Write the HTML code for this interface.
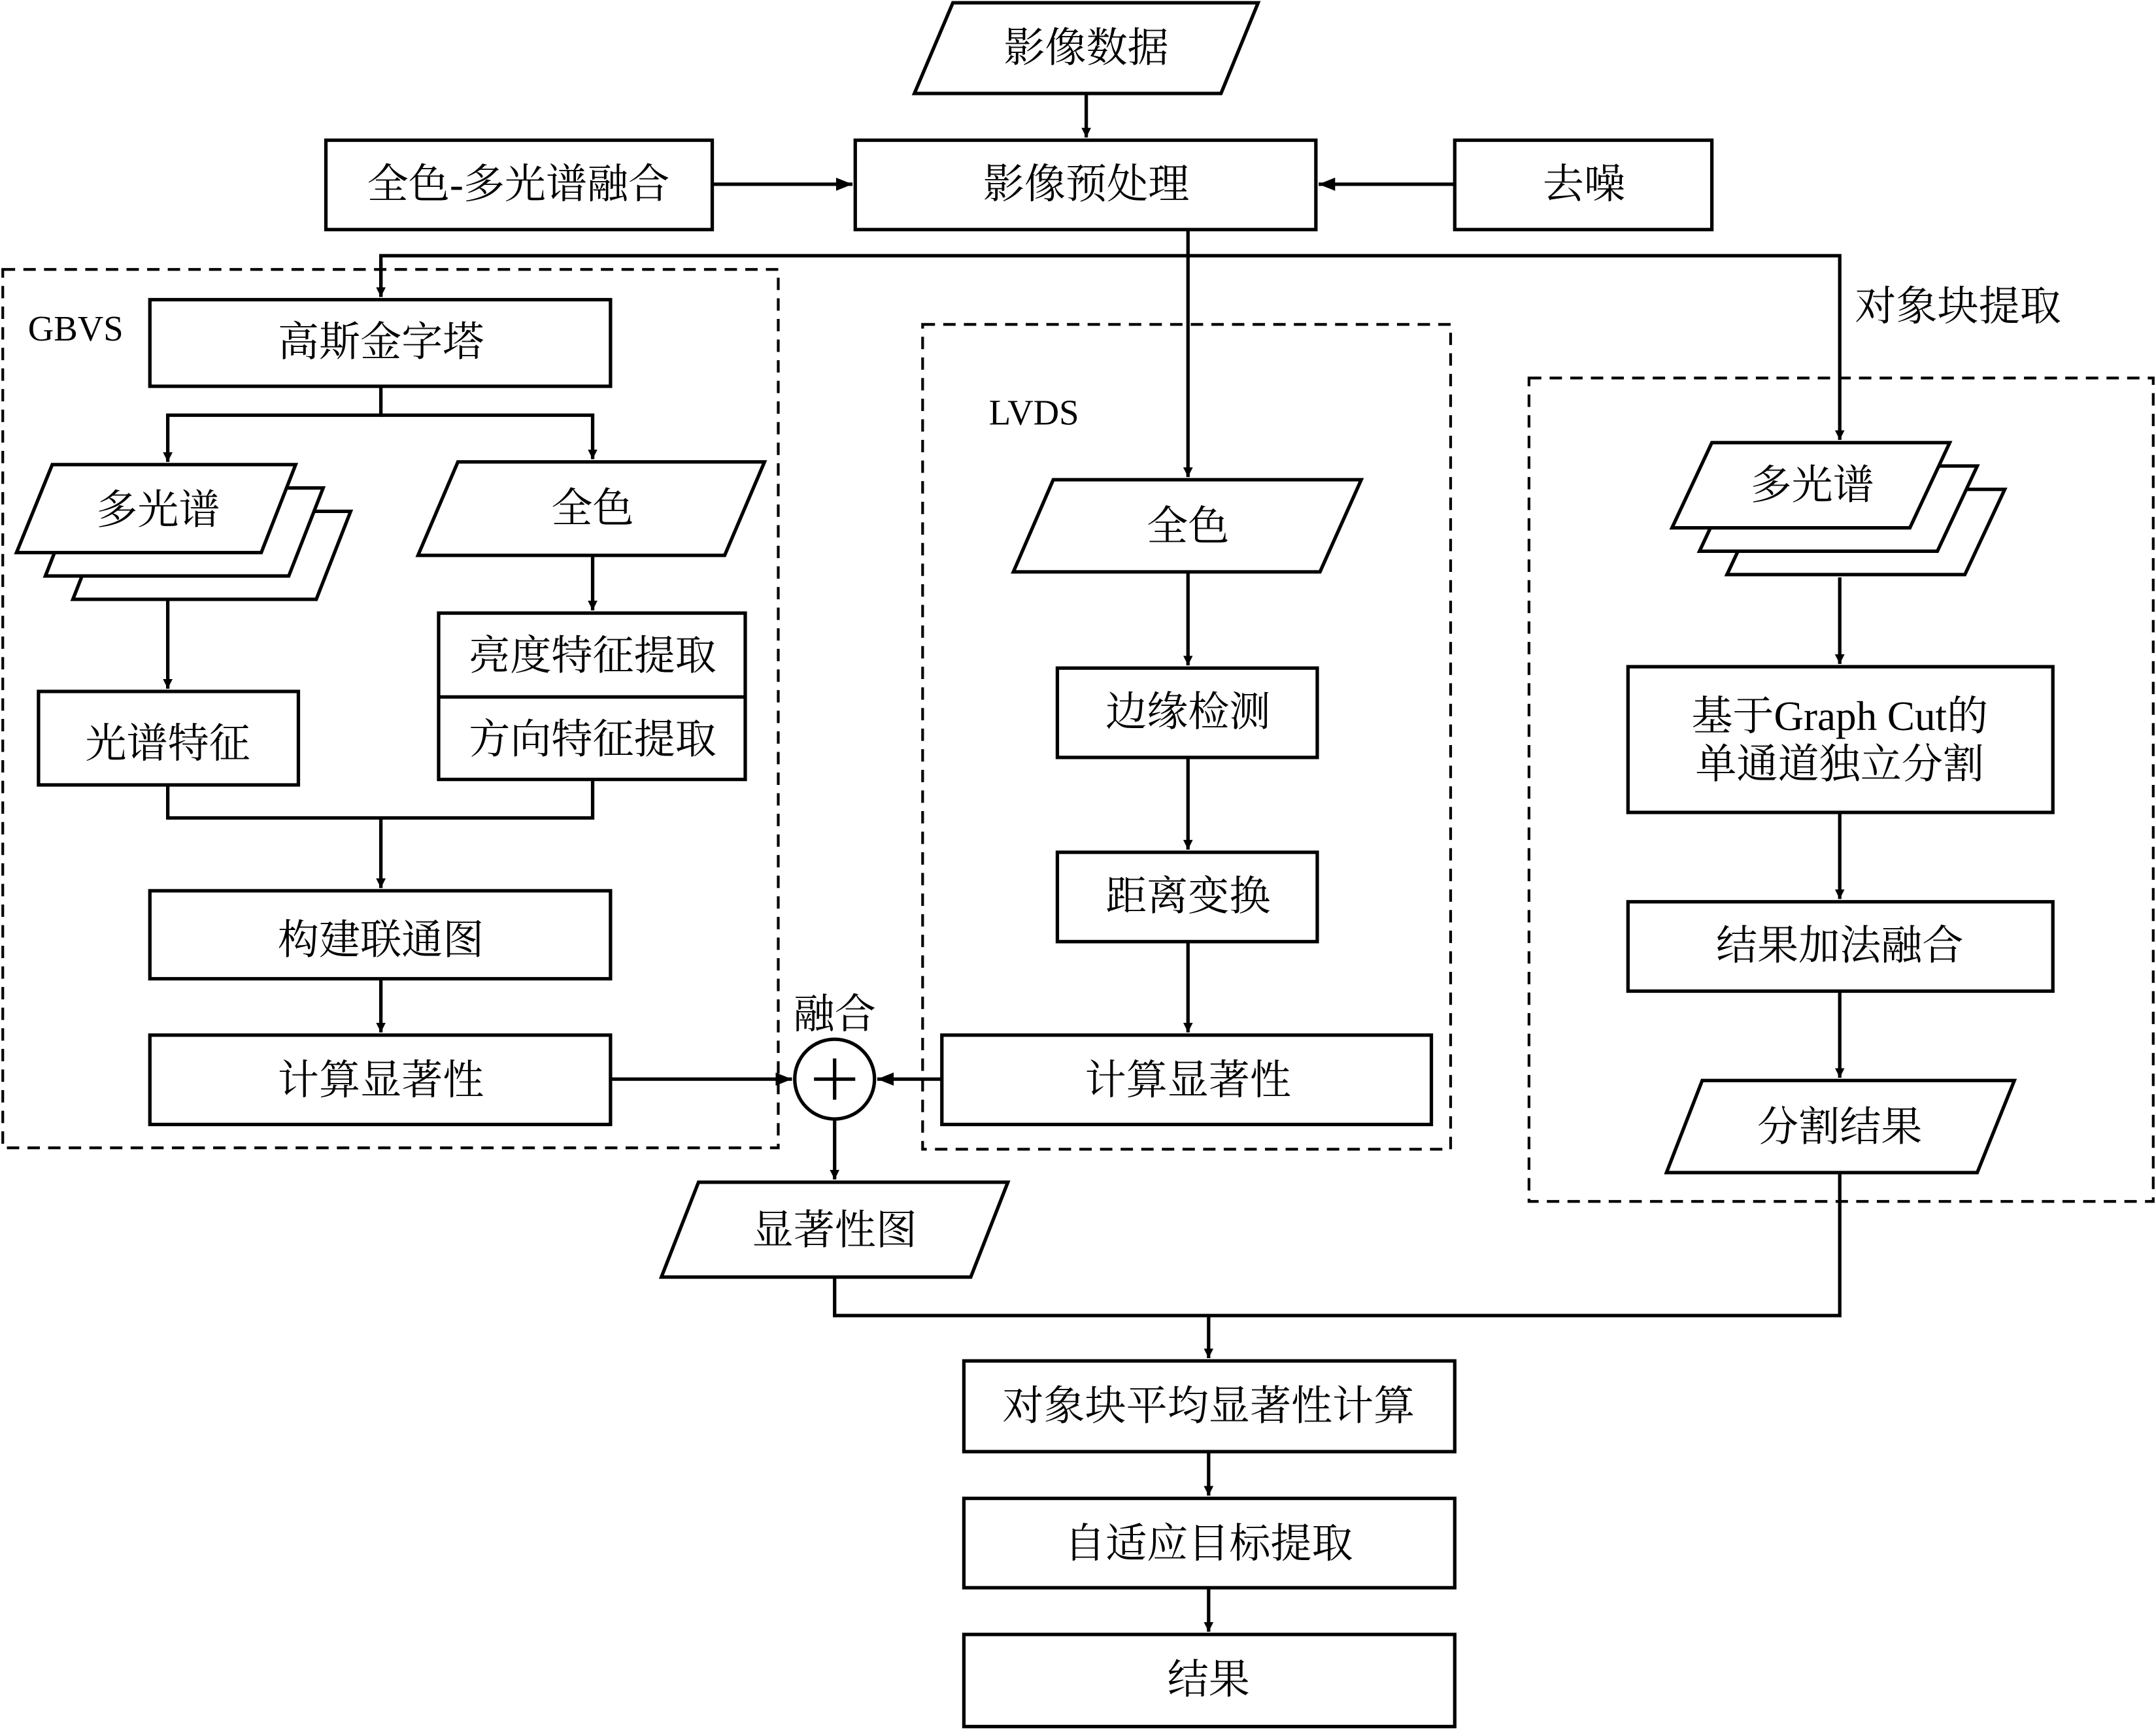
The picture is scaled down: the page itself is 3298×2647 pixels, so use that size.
<!DOCTYPE html>
<html><head><meta charset="utf-8">
<style>
html,body{margin:0;padding:0;background:#fff;}
svg{display:block;}
text{font-family:"Liberation Serif","Noto Serif CJK SC","Noto Sans CJK SC",serif;font-size:30px;fill:#000;text-anchor:middle;dominant-baseline:central;}
</style></head>
<body>
<svg width="3298" height="2647" viewBox="0 0 1568 1258.5" xmlns="http://www.w3.org/2000/svg">
<defs>
<marker id="a" viewBox="0 0 10 10" refX="10" refY="5" markerWidth="7" markerHeight="7" markerUnits="userSpaceOnUse" orient="auto">
<path d="M0,0 L10,5 L0,10 z" fill="#000"/></marker>
<marker id="b" viewBox="0 0 10 10" refX="10" refY="5" markerWidth="12" markerHeight="12" markerUnits="userSpaceOnUse" orient="auto">
<path d="M0,1 L10,5 L0,9 z" fill="#000"/></marker>
</defs>
<g fill="none" stroke="#000" stroke-width="2.5">
<!-- dashed boxes -->
<g stroke-dasharray="9,6" stroke-width="2">
<rect x="2" y="196" width="564" height="639"/>
<rect x="671" y="236" width="384" height="600"/>
<rect x="1112" y="275" width="454" height="599"/>
</g>
<!-- top -->
<polygon points="693,2 915,2 888,68 665,68" fill="#fff"/>
<rect x="622" y="102" width="335" height="65"/>
<rect x="237" y="102" width="281" height="65"/>
<rect x="1058" y="102" width="187" height="65"/>
<!-- GBVS -->
<rect x="109" y="218" width="335" height="63"/>
<polygon points="78,372 255,372 230,436 53,436" fill="#fff"/>
<polygon points="58,355 235,355 210,419 33,419" fill="#fff"/>
<polygon points="38,338 215,338 190,402 12,402" fill="#fff"/>
<polygon points="333,336 556,336 527,404 304,404"/>
<rect x="28" y="503" width="189" height="68"/>
<rect x="319" y="446" width="223" height="121"/>
<line x1="319" y1="507" x2="542" y2="507"/>
<rect x="109" y="648" width="335" height="64"/>
<rect x="109" y="753" width="335" height="65"/>
<!-- LVDS -->
<polygon points="766,349 990,349 960,416 737,416"/>
<rect x="769" y="486" width="189" height="65"/>
<rect x="769" y="620" width="189" height="65"/>
<rect x="685" y="753" width="356" height="65"/>
<!-- fusion -->
<circle cx="607" cy="785" r="29"/>
<line x1="607" y1="770" x2="607" y2="800"/>
<line x1="592" y1="785" x2="622" y2="785"/>
<polygon points="508,860 733,860 706,929 481,929"/>
<!-- right -->
<polygon points="1285,356 1458,356 1429,418 1256,418" fill="#fff"/>
<polygon points="1265,339 1438,339 1409,401 1236,401" fill="#fff"/>
<polygon points="1245,322 1418,322 1389,384 1216,384" fill="#fff"/>
<rect x="1184" y="485" width="309" height="106"/>
<rect x="1184" y="656" width="309" height="65"/>
<polygon points="1238,786 1465,786 1438,853 1212,853"/>
<!-- bottom -->
<rect x="701" y="990" width="357" height="66"/>
<rect x="701" y="1090" width="357" height="65"/>
<rect x="701" y="1189" width="357" height="67"/>
</g>
<!-- connectors -->
<g fill="none" stroke="#000" stroke-width="2.5">
<line x1="790" y1="68" x2="790" y2="100" marker-end="url(#a)"/>
<line x1="518" y1="134" x2="620" y2="134" marker-end="url(#b)"/>
<line x1="1058" y1="134" x2="959" y2="134" marker-end="url(#b)"/>
<polyline points="277,216 277,186 1338,186 1338,320" marker-end="url(#a)"/>
<line x1="277" y1="190" x2="277" y2="216" marker-end="url(#a)"/>
<line x1="864" y1="167" x2="864" y2="347" marker-end="url(#a)"/>
<polyline points="277,281 277,302 122,302 122,336" marker-end="url(#a)"/>
<polyline points="277,302 431,302 431,334" marker-end="url(#a)"/>
<line x1="122" y1="437" x2="122" y2="501" marker-end="url(#a)"/>
<line x1="431" y1="404" x2="431" y2="444" marker-end="url(#a)"/>
<polyline points="122,571 122,595 431,595 431,567"/>
<line x1="277" y1="595" x2="277" y2="646" marker-end="url(#a)"/>
<line x1="277" y1="712" x2="277" y2="751" marker-end="url(#a)"/>
<line x1="444" y1="785" x2="576" y2="785" marker-end="url(#b)"/>
<line x1="685" y1="785" x2="638" y2="785" marker-end="url(#b)"/>
<line x1="864" y1="416" x2="864" y2="484" marker-end="url(#a)"/>
<line x1="864" y1="551" x2="864" y2="618" marker-end="url(#a)"/>
<line x1="864" y1="685" x2="864" y2="751" marker-end="url(#a)"/>
<line x1="607" y1="814" x2="607" y2="858" marker-end="url(#a)"/>
<line x1="1338" y1="420" x2="1338" y2="483" marker-end="url(#a)"/>
<line x1="1338" y1="591" x2="1338" y2="654" marker-end="url(#a)"/>
<line x1="1338" y1="721" x2="1338" y2="784" marker-end="url(#a)"/>
<polyline points="607,929 607,957 1338,957 1338,853"/>
<line x1="879" y1="957" x2="879" y2="988" marker-end="url(#a)"/>
<line x1="879" y1="1056" x2="879" y2="1088" marker-end="url(#a)"/>
<line x1="879" y1="1155" x2="879" y2="1187" marker-end="url(#a)"/>
</g>
<!-- labels -->
<text x="790" y="35">影像数据</text>
<text x="790" y="134">影像预处理</text>
<text x="377" y="134">全色-多光谱融合</text>
<text x="1152" y="134">去噪</text>
<text x="1424" y="223">对象块提取</text>
<text x="55" y="239" style="font-size:26px">GBVS</text>
<text x="277" y="249">高斯金字塔</text>
<text x="115" y="371">多光谱</text>
<text x="431" y="370">全色</text>
<text x="122" y="541">光谱特征</text>
<text x="431" y="477">亮度特征提取</text>
<text x="431" y="538">方向特征提取</text>
<text x="277" y="684">构建联通图</text>
<text x="277" y="786">计算显著性</text>
<text x="607" y="738">融合</text>
<text x="752" y="300" style="font-size:26px">LVDS</text>
<text x="864" y="383">全色</text>
<text x="864" y="518">边缘检测</text>
<text x="864" y="652">距离变换</text>
<text x="864" y="786">计算显著性</text>
<text x="607" y="895">显著性图</text>
<text x="1318" y="353">多光谱</text>
<text x="1338" y="521">基于Graph Cut的</text>
<text x="1338" y="556">单通道独立分割</text>
<text x="1338" y="688">结果加法融合</text>
<text x="1338" y="820">分割结果</text>
<text x="879" y="1023">对象块平均显著性计算</text>
<text x="879" y="1123">自适应目标提取</text>
<text x="879" y="1222">结果</text>
</svg>
</body></html>
